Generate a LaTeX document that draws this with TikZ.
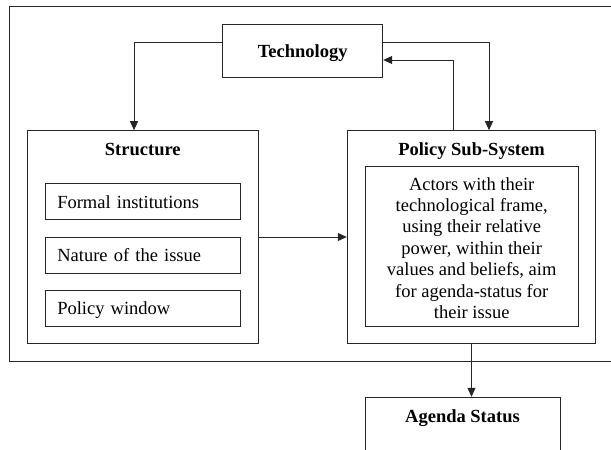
\documentclass[tikz,border=0pt]{standalone}
\usepackage{fontspec}
\setmainfont{Liberation Serif}
\usetikzlibrary{arrows.meta,calc}
\tikzset{
  ln/.style={draw=black!85, line width=1pt},
  box/.style={ln, rectangle, inner sep=0pt},
  arr/.style={ln, -{Triangle[length=9pt,width=8pt]}},
  big/.style={font=\fontsize{18.5}{21.4}\selectfont},
  ttl/.style={font=\fontsize{18.5}{21.4}\selectfont\bfseries, anchor=base, inner sep=0pt},
  item/.style={box, big, minimum width=195.4pt, minimum height=35.7pt, text width=171.4pt, inner xsep=12pt, align=left, text height=13.2pt, text depth=0pt}
}
\begin{document}
\begin{tikzpicture}[x=1pt,y=-1pt]
\useasboundingbox (0,0) rectangle (611,450);
\clip (0,0) rectangle (611,450);
\fill[white] (0,0) rectangle (611,450);
% outer frame
\draw[ln] (9.3,6) rectangle (660,361.7);
% technology
\node[box, ttl, anchor=center, minimum width=160pt, minimum height=53pt, text height=13pt, text depth=0pt] (tech) at (302.7,50.8) {Technology};
% structure
\node[box, minimum width=231pt, minimum height=212.6pt] (struct) at (142.8,237) {};
\node[ttl] (structtitle) at (142.8,155.7) {Structure};
\node[item] (formal) at (143,201.8) {Formal institutions};
\node[item] (nature) at (143,255.2) {Nature of the issue};
\node[item] (window) at (143,308.3) {Policy window};
% policy sub-system
\node[box, minimum width=248.4pt, minimum height=212.6pt] (policy) at (471.5,237) {};
\node[ttl] (policytitle) at (471.5,155.7) {Policy Sub-System};
\node[box, minimum width=213.3pt, minimum height=160pt] (actorsbox) at (471.7,246) {};
\node[big, align=center, anchor=base, inner sep=0pt] (actors) at (471.7,318.4) {Actors with their\\technological frame,\\using their relative\\power, within their\\values and beliefs, aim\\for agenda-status for\\their issue};
% agenda status
\node[box, minimum width=195pt, minimum height=100pt] (agenda) at (462.5,447.3) {};
\node[ttl] (agendatitle) at (462.5,422.7) {Agenda Status};
% connectors
\draw[arr] ([yshift=8.8pt]tech.west) -| ([xshift=-8.8pt]struct.north);
\draw[arr] ([yshift=8.8pt]tech.east) -| ([xshift=17.5pt]policy.north);
\draw[arr] ([xshift=-17.8pt]policy.north) |- ([yshift=-9.2pt]tech.east);
\draw[arr] (struct.east) -- (policy.west);
\draw[arr] (policy.south) -- (policy.south |- agenda.north);
\end{tikzpicture}
\end{document}
